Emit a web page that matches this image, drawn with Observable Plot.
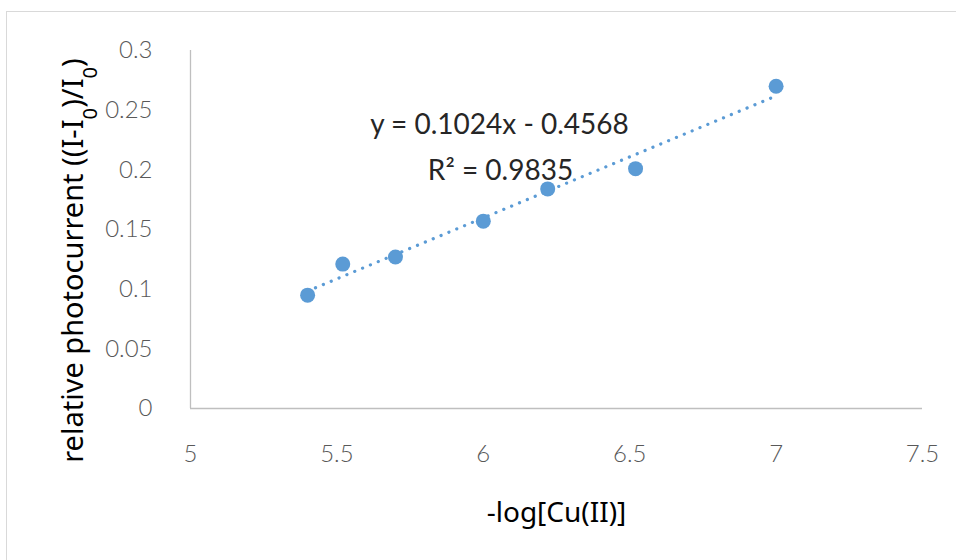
<!DOCTYPE html>
<html>
<head>
<meta charset="utf-8">
<script src="https://cdn.jsdelivr.net/npm/d3@7"></script>
<script src="https://cdn.jsdelivr.net/npm/@observablehq/plot@0.6"></script>
<style>
  html, body { margin: 0; padding: 0; background: #fff; }
  #wrap { position: relative; width: 956px; height: 560px; overflow: hidden; }
  #border { position: absolute; left: 6px; top: 11px; width: 960px; height: 560px; border: 1px solid #d9d9d9; box-sizing: border-box; pointer-events: none; }
</style>
</head>
<body>
<div id="wrap"><div id="border"></div></div>
<script>
const xValues = [5.4, 5.52, 5.7, 6.0, 6.22, 6.52, 7.0];
const yValues = [0.095, 0.121, 0.127, 0.157, 0.184, 0.201, 0.270];
const xTicks = [5, 5.5, 6, 6.5, 7, 7.5];
const yTicks = [0, 0.05, 0.1, 0.15, 0.2, 0.25, 0.3];
const equationText = "y = 0.1024x - 0.4568";
const r2Text = "R² = 0.9835";
const xLabel = "-log[Cu(II)]";
const yLabel = "relative photocurrent ((I-I0)/I0)";

const data = xValues.map((x, i) => ({x, y: yValues[i]}));
const blue = "#5b9bd5";

const chart = Plot.plot({
  width: 956,
  height: 560,
  marginLeft: 190,
  marginRight: 34,
  marginTop: 50,
  marginBottom: 152,
  style: {fontFamily: "Lato, 'Noto Sans', sans-serif", background: "transparent"},
  x: {domain: [5, 7.5]},
  y: {domain: [0, 0.3]},
  marks: [
    Plot.ruleX([5], {stroke: "#bfbfbf", strokeWidth: 1.3}),
    Plot.ruleY([0], {stroke: "#bfbfbf", strokeWidth: 1.3}),
    Plot.axisX({ticks: xTicks, tickSize: 0, tickPadding: 36, label: null, tickFormat: d => String(d),
      fontSize: 24, fill: "#595959", fontWeight: 300}),
    Plot.axisY({ticks: yTicks, tickSize: 0, tickPadding: 38, label: null, tickFormat: d => String(d),
      fontSize: 24, fill: "#595959", fontWeight: 300}),
    Plot.linearRegressionY(data, {x: "x", y: "y", ci: 0, stroke: blue, strokeWidth: 3.2,
      strokeDasharray: "0.1 8.4", strokeLinecap: "round"}),
    Plot.dot(data, {x: "x", y: "y", r: 7.5, fill: blue, stroke: "none"}),
    Plot.text([equationText], {frameAnchor: "top-left", text: d => d, dx: 309, dy: 64,
      fontSize: 28, fill: "#262626", textAnchor: "middle"}),
    Plot.text([r2Text], {frameAnchor: "top-left", text: d => d, dx: 310, dy: 110,
      fontSize: 28, fill: "#262626", textAnchor: "middle"}),
    Plot.text([xLabel], {frameAnchor: "bottom", text: d => d, dy: 113,
      fontSize: 28, fill: "#000", fontFamily: "'Noto Sans', Lato, sans-serif"}),
    Plot.text([yLabel], {frameAnchor: "left", text: d => d, dx: -117, dy: 31, rotate: -90, textAnchor: "middle",
      fontSize: 29, fill: "#000", fontFamily: "'Noto Sans', Lato, sans-serif"})
  ]
});

// subscripts in y label
d3.select(chart).selectAll("text").each(function() {
  if (this.textContent === yLabel) {
    const sel = d3.select(this);
    sel.text(null);
    const parts = [["relative photocurrent ((I-I", false], ["0", true], [")/I", false], ["0", true], [")", false]];
    parts.forEach(([t, sub]) => {
      const ts = sel.append("tspan").text(t);
      if (sub) ts.attr("baseline-shift", "sub").attr("font-size", "0.7em");
    });
  }
});

document.getElementById("wrap").prepend(chart);
</script>
</body>
</html>
